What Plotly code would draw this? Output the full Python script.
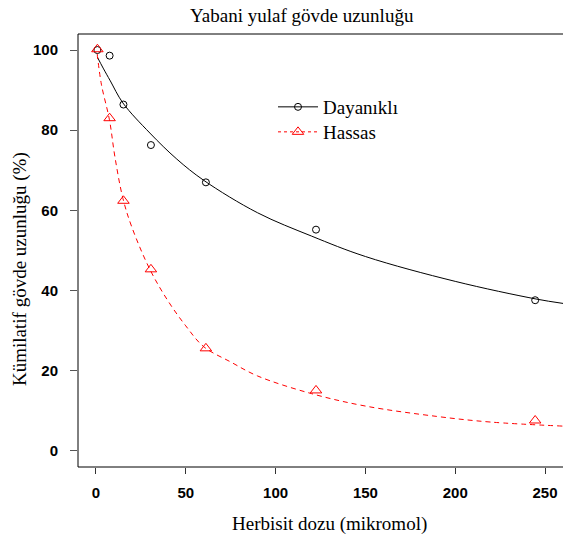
import plotly.graph_objects as go

# Observed data
doses = [0.8, 7.6, 15.3, 30.6, 61.2, 122.5, 244.5]
dayanikli = [100.0, 98.6, 86.4, 76.3, 67.0, 55.2, 37.6]
hassas = [100.2, 83.0, 62.4, 45.3, 25.6, 15.1, 7.6]

# Fitted curves
fit_x_d = [0.7, 4, 8, 15, 30, 45, 60, 90, 120, 150, 200, 245, 260]
fit_y_d = [98.3, 95.5, 92.3, 86.8, 79.3, 72.8, 67.5, 59.4, 53.6, 48.5, 42.3, 37.9, 36.8]
fit_x_h = [0.7, 3, 7.5, 10.5, 15, 20, 30, 40, 50, 60, 75, 90, 120, 150, 190, 220, 260]
fit_y_h = [99, 91.5, 82.6, 73.5, 63, 55.8, 45.3, 37.5, 31.2, 26, 22.2, 18.7, 14.3, 11.2, 8.6, 7.2, 6.2]

x_ticks = [0, 50, 100, 150, 200, 250]
y_ticks = [0, 20, 40, 60, 80, 100]

title_text = "Yabani yulaf gövde uzunluğu"
x_title = "Herbisit dozu (mikromol)"
y_title = "Kümilatif gövde uzunluğu (%)"
names = ["Dayanıklı", "Hassas"]

serif = "Liberation Serif, Times New Roman, serif"
sans = "Liberation Sans, Arial, sans-serif"
red = "#ff0000"

fig = go.Figure()
fig.add_trace(go.Scatter(x=fit_x_d, y=fit_y_d, mode="lines", line=dict(color="black", width=1, shape="spline"),
                         showlegend=False, hoverinfo="skip"))
fig.add_trace(go.Scatter(x=fit_x_h, y=fit_y_h, mode="lines", line=dict(color=red, width=1, dash="5px,4px", shape="spline"),
                         showlegend=False, hoverinfo="skip"))
fig.add_trace(go.Scatter(x=doses, y=dayanikli, mode="markers",
                         marker=dict(symbol="circle-open", size=7, color="black", line=dict(width=1)),
                         showlegend=False))
fig.add_trace(go.Scatter(x=doses, y=hassas, mode="markers",
                         marker=dict(symbol="triangle-up-open", size=10, color=red, line=dict(width=1)),
                         showlegend=False))
# legend entries
fig.add_trace(go.Scatter(x=[None], y=[None], mode="lines+markers", name=names[0], legend="legend",
                         line=dict(color="black", width=1),
                         marker=dict(symbol="circle-open", size=7, color="black", line=dict(width=1))))
fig.add_trace(go.Scatter(x=[None], y=[None], mode="lines+markers", name=names[1], legend="legend2",
                         line=dict(color=red, width=1, dash="3px,3px"),
                         marker=dict(symbol="triangle-up-open", size=10, color=red, line=dict(width=1))))

L, T, B = 78, 34, 67
W, H = 563, 534
pw = W - L
ph = H - T - B

def px_x(p):
    return (p - L) / pw

def px_y(p):
    return (H - B - p) / ph

leg_common = dict(xanchor="left", yanchor="middle",
                  font=dict(family=serif, size=19, color="black"), itemwidth=40,
                  bgcolor="rgba(0,0,0,0)", borderwidth=0, tracegroupgap=0)

fig.update_layout(
    width=W, height=H,
    margin=dict(l=L, r=0, t=T, b=B, autoexpand=False),
    paper_bgcolor="white", plot_bgcolor="white",
    showlegend=True,
    legend=dict(x=px_x(273), y=px_y(107), **leg_common),
    legend2=dict(x=px_x(273), y=px_y(132), **leg_common),
    xaxis=dict(range=[-10, 260], tickvals=x_ticks, ticks="outside", ticklen=6, tickcolor="#333",
               showgrid=False, zeroline=False, showline=False, automargin=False, ticklabelstandoff=6,
               tickfont=dict(family=sans, size=15, color="black", weight="bold")),
    yaxis=dict(range=[-4, 104], tickvals=y_ticks, ticks="outside", ticklen=7, tickcolor="#555",
               showgrid=False, zeroline=False, showline=False, automargin=False, ticklabelstandoff=9,
               tickfont=dict(family=sans, size=15, color="black", weight="bold")),
    shapes=[dict(type="rect", xref="paper", yref="paper", x0=0, x1=1.01, y0=0, y1=1,
                 line=dict(color="black", width=1))],
    annotations=[
        dict(text=title_text, xref="paper", yref="paper", x=px_x(302), y=px_y(16),
             xanchor="center", yanchor="middle", showarrow=False,
             font=dict(family=serif, size=19, color="black")),
        dict(text=x_title, xref="paper", yref="paper", x=px_x(329), y=px_y(524),
             xanchor="center", yanchor="middle", showarrow=False,
             font=dict(family=serif, size=19, color="black")),
        dict(text=y_title, xref="paper", yref="paper", x=px_x(20), y=px_y(269),
             xanchor="center", yanchor="middle", showarrow=False, textangle=-90,
             font=dict(family=serif, size=19, color="black")),
    ],
)

fig.write_html("out.html", config={"displayModeBar": False},
               post_script="document.body.style.margin='0';document.body.style.overflow='hidden';")
